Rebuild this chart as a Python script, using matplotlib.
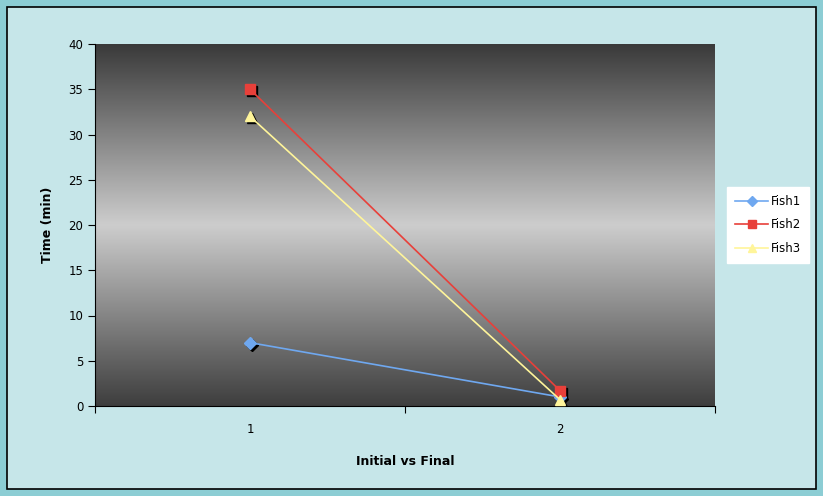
import numpy as np
import matplotlib.pyplot as plt
import matplotlib.transforms as mtransforms
from matplotlib.patches import Rectangle
from matplotlib.colors import LinearSegmentedColormap

# data
categories = [1, 2]
fish1 = [7, 1]
fish2 = [35, 1.7]
fish3 = [32, 0.7]
series_names = ["Fish1", "Fish2", "Fish3"]
series_colors = ["#6FA8F0", "#E8403A", "#FFF59A"]
series_markers = ["D", "s", "^"]
yticks = [0, 5, 10, 15, 20, 25, 30, 35, 40]

fig = plt.figure(figsize=(8.23, 4.96), dpi=100)
fig.patch.set_facecolor("#8CCDD4")

# inner chart area with black border
fig.patches.append(Rectangle((7 / 823, 7 / 496), 809 / 823, 482 / 496,
                             transform=fig.transFigure, facecolor="#C6E6E9",
                             edgecolor="black", linewidth=1.2, zorder=-10))

ax = fig.add_axes([95 / 823, 1 - 406 / 496, 620 / 823, 362 / 496])
ax.set_zorder(1)
ax.set_facecolor("none")

# gradient background: dark - light - dark
cmap = LinearSegmentedColormap.from_list(
    "grad", [(0, "#3A3A3A"), (0.5, "#CDCDCD"), (1, "#3E3E3E")])
grad = np.linspace(0, 1, 256).reshape(-1, 1)
ax.imshow(grad, cmap=cmap, aspect="auto", extent=[0, 1, 0, 1],
          transform=ax.transAxes, zorder=0)

shadow = mtransforms.offset_copy(ax.transData, fig=fig, x=2, y=-2, units="dots")
for vals, name, c, m in zip([fish1, fish2, fish3], series_names,
                            series_colors, series_markers):
    ms = 6 if m == "D" else 7
    ax.plot(categories, vals, linestyle="none", marker=m, markersize=ms,
            color="black", transform=shadow, zorder=2)
    ax.plot(categories, vals, color=c, marker=m, markersize=ms,
            linewidth=1.2, label=name, zorder=3)

ax.set_xlim(0.5, 2.5)
ax.set_ylim(0, 40)
ax.set_yticks(yticks)
ax.set_xticks([0.5, 1.5, 2.5])
ax.set_xticklabels([])
ax.set_xticks(categories, minor=True)
ax.set_xticklabels([str(c) for c in categories], minor=True)
ax.tick_params(axis="x", which="minor", length=0, pad=12)
ax.tick_params(axis="both", which="major", direction="out", length=5,
               width=0.8, labelsize=8.5, colors="black")
ax.tick_params(axis="x", which="minor", labelsize=8.5)

for s in ["top", "right"]:
    ax.spines[s].set_visible(False)
ax.spines["left"].set_linewidth(0.8)
ax.spines["bottom"].set_linewidth(0.8)

ax.set_ylabel("Time (min)", fontsize=9, fontweight="bold", labelpad=10)
ax.set_xlabel("Initial vs Final", fontsize=9, fontweight="bold", labelpad=14)

leg = ax.legend(loc="center left", bbox_to_anchor=(1.01, 0.5), fontsize=8.5,
                frameon=True, fancybox=False, handlelength=2.8,
                handletextpad=0.2, markerscale=0.8, framealpha=1,
                borderpad=0.7, labelspacing=0.9)
leg.get_frame().set_facecolor("white")
leg.get_frame().set_edgecolor("white")

plt.savefig("out.png", dpi=100, facecolor=fig.get_facecolor())
